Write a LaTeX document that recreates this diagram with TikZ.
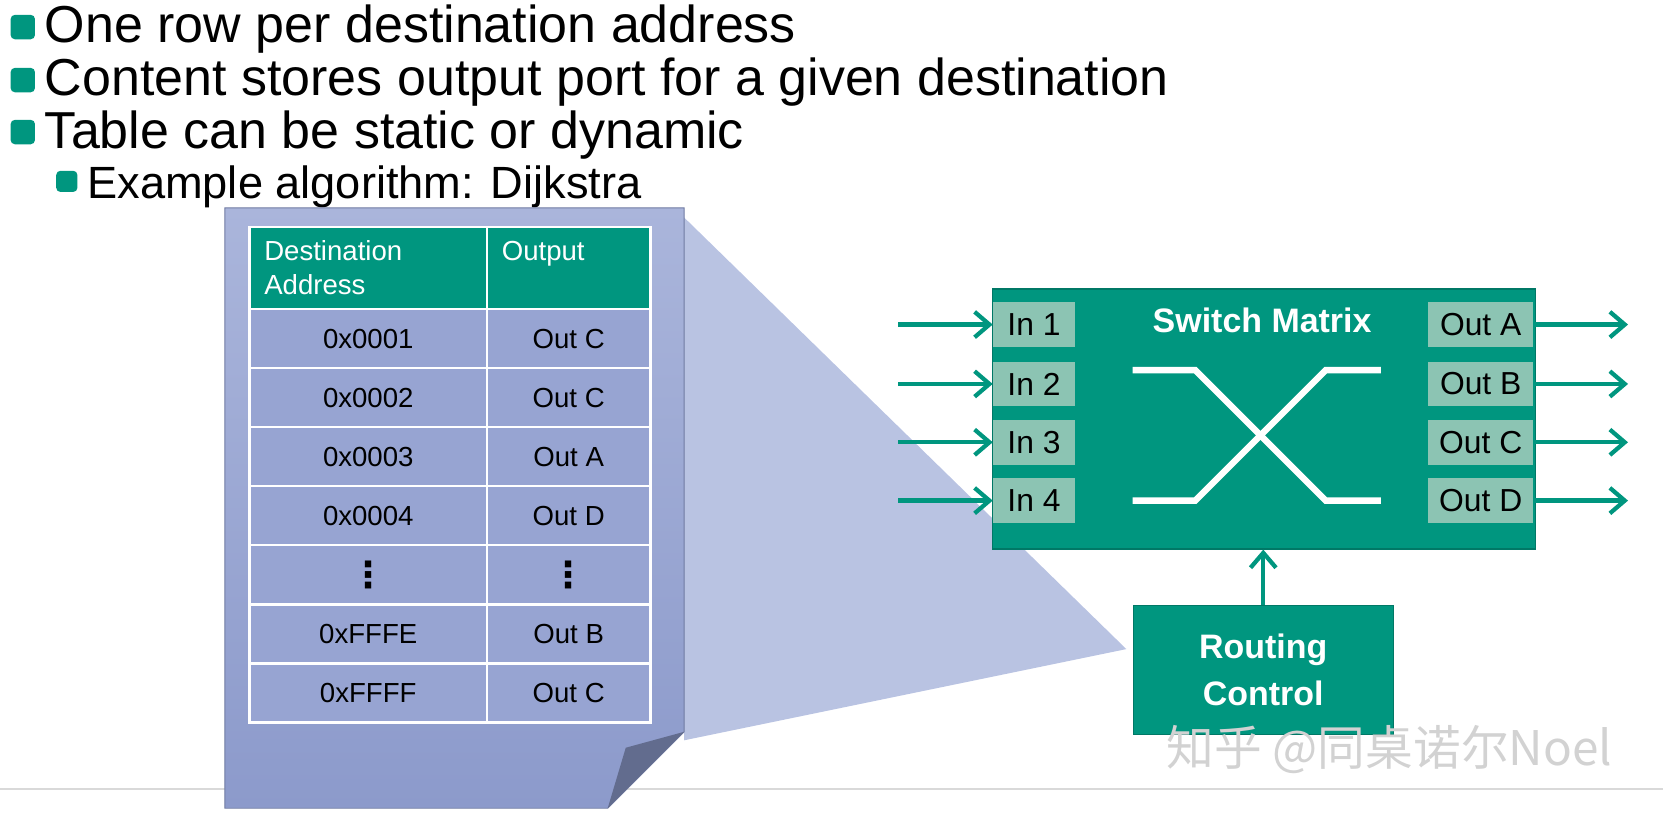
\documentclass[tikz,border=0pt]{standalone}
\usepackage{fontspec}
\setmainfont{Liberation Sans}
\newfontfamily\cjk{Noto Sans CJK SC}
\newfontfamily\dejavu{DejaVu Sans}
\usepackage{xcolor}
\usetikzlibrary{positioning, calc, arrows.meta}
\definecolor{teal}{HTML}{00967F}
\definecolor{portfill}{HTML}{8CC4B3}
\definecolor{docTop}{HTML}{AAB5DB}
\definecolor{docBot}{HTML}{8C9ACB}
\definecolor{cellfill}{HTML}{97A4D2}
\definecolor{funnel}{HTML}{B9C3E2}
\newcommand{\vdotsglyph}{{\dejavu\bfseries\fontsize{17}{17}\selectfont ⋮}}
\begin{document}
\begin{tikzpicture}[x=0.5pt, y=-0.5pt, >={Straight Barb[length=7pt,width=12pt,line width=2pt]},
  bullet/.style={fill=teal, rounded corners=2pt},
  bul/.style={anchor=base west, inner sep=0pt, font=\fontsize{24.5}{27}\selectfont},
  cell/.style={draw=white, line width=1.2pt, fill=cellfill, minimum width=#1, minimum height=28pt,
    inner sep=0pt, font=\fontsize{13}{15}\selectfont},
  head/.style={draw=white, line width=1.2pt, fill=teal, minimum width=#1, minimum height=38.5pt,
    inner xsep=7pt, inner ysep=0pt, text=white, font=\fontsize{13}{16}\selectfont},
  port/.style={fill=portfill, minimum width=38.5pt, minimum height=21pt, inner sep=0pt,
    font=\fontsize{15}{17}\selectfont},
  oport/.style={port, minimum width=49.5pt},
  flow/.style={->, draw=teal, line width=2pt},
  xline/.style={draw=white, line width=3pt}]
  \useasboundingbox (0,0) rectangle (1568,768);
  % footer line
  \draw[gray!30, line width=0.6pt] (0,744) -- (1568,744);
  % Bullets
  \fill[bullet] (10,14) rectangle (33,37);
  \fill[bullet] (10,64) rectangle (33,87);
  \fill[bullet] (10,113) rectangle (33,136);
  \fill[bullet] (53,161) rectangle (73,181);
  \node[bul] (b1) at (42,40) {One row per destination address};
  \node[bul] (b2) at (42,90) {Content stores output port for a given destination};
  \node[bul] (b3) at (42,140) {Table can be static or dynamic};
  \node[bul, font=\fontsize{21.3}{24}\selectfont] (b4) at (82,187) {Example algorithm: Dijkstra};
  % Zoom funnel
  \fill[funnel] (645,205) -- (1062,612) -- (645,698) -- cycle;
  % Document page
  \shade[top color=docTop, bottom color=docBot, draw=docBot!80!black, line width=0.4pt]
    (212,196) -- (645,196) -- (645,690) -- (573,762) -- (212,762) -- cycle;
  \fill[docBot!70!black] (645,690) -- (590,705) -- (573,762) -- cycle;
  % Table
  \node[head=112pt, anchor=north west, align=left, text width=98pt] (h1) at (234,213)
    {Destination\\Address};
  \node[head=77pt, anchor=north west, align=left, text width=63pt] (h2) at (458,213)
    {Output\\\mbox{}};
  \foreach \addr/\out [count=\i] in {0x0001/Out C, 0x0002/Out C, 0x0003/Out A, 0x0004/Out D,
      \vdotsglyph/\vdotsglyph, 0xFFFE/Out B, 0xFFFF/Out C} {
    \node[cell=112pt, anchor=north west] (a\i) at ($(234,290)+(0,{(\i-1)*55.7})$) {\addr};
    \node[cell=77pt, anchor=north west] (o\i) at ($(458,290)+(0,{(\i-1)*55.7})$) {\out};
  }
  % Switch matrix
  \node[fill=teal, draw=teal!80!black, line width=0.6pt, minimum width=256pt, minimum height=122.5pt,
    anchor=north west, inner sep=0pt] (sm) at (935,272) {};
  \node[text=white, font=\bfseries\fontsize{16}{18}\selectfont] (smt) at (1190,302) {Switch Matrix};
  \foreach \y [count=\i] in {306,362,417,472} {
    \node[port, anchor=west] (in\i) at (936,\y) {In \i};
    \coordinate (src\i) at (847,\y);
    \draw[flow] (src\i) -- (in\i.west);
  }
  \foreach \y/\l in {306/A,362/B,417/C,472/D} {
    \node[oport, anchor=east] (out\l) at (1446,\y) {Out \l};
    \coordinate (dst\l) at (1535,\y);
    \draw[flow] (out\l.east) -- (dst\l);
  }
  \draw[xline] (1068,349) -- (1127,349) -- (1250,472) -- (1302,472);
  \draw[xline] (1068,472) -- (1127,472) -- (1250,349) -- (1302,349);
  % Routing control
  \node[fill=teal, draw=teal!80!black, line width=0.6pt, minimum width=122.5pt, minimum height=61pt,
    anchor=north west, inner sep=0pt, align=center, text=white,
    font=\bfseries\fontsize{16}{22}\selectfont] (rc) at (1068,570) {Routing\\Control};
  \draw[flow] (rc.north) -- (sm.south -| rc.north);
  % watermark
  \node[anchor=base, text=gray!35, font=\cjk\fontsize{22.5}{24}\selectfont] (wm) at (1310,722)
    {知乎 @同桌诺尔Noel};
\end{tikzpicture}
\end{document}
